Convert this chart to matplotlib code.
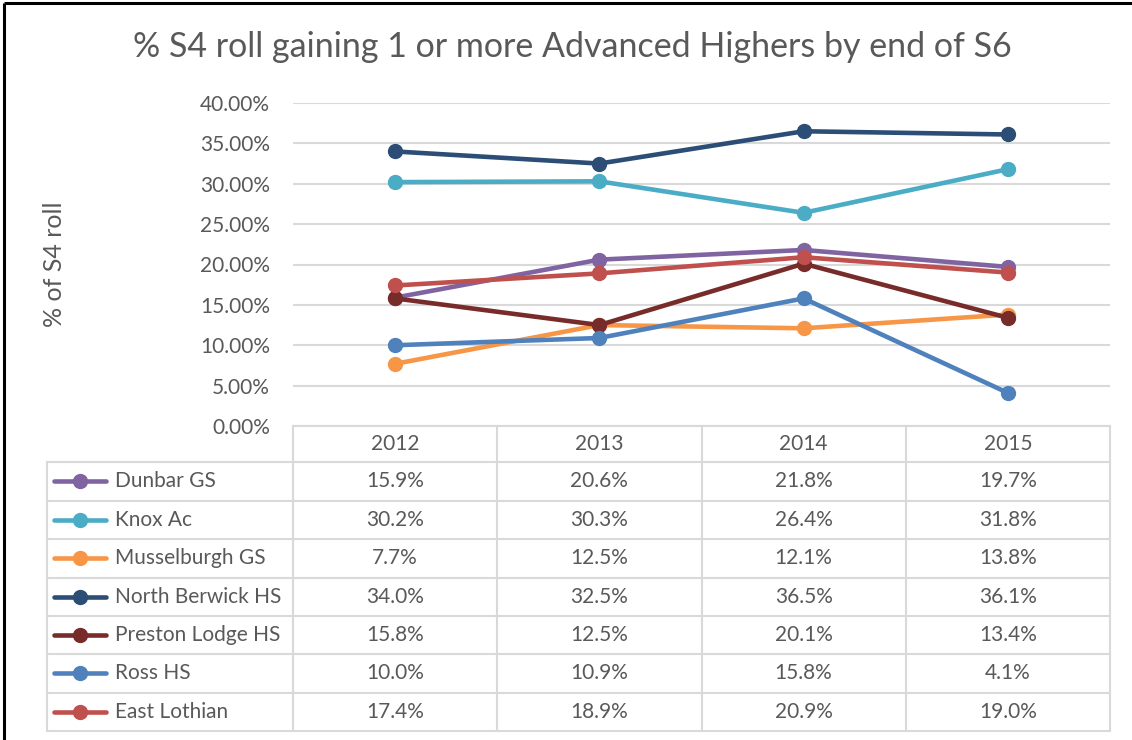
import matplotlib
matplotlib.use("Agg")
import matplotlib.pyplot as plt

plt.rcParams['font.family'] = ['Lato', 'DejaVu Sans']

years = ['2012', '2013', '2014', '2015']
schools = ['Dunbar GS', 'Knox Ac', 'Musselburgh GS', 'North Berwick HS',
           'Preston Lodge HS', 'Ross HS', 'East Lothian']
dunbar = [15.9, 20.6, 21.8, 19.7]
knox = [30.2, 30.3, 26.4, 31.8]
musselburgh = [7.7, 12.5, 12.1, 13.8]
north_berwick = [34.0, 32.5, 36.5, 36.1]
preston = [15.8, 12.5, 20.1, 13.4]
ross = [10.0, 10.9, 15.8, 4.1]
east_lothian = [17.4, 18.9, 20.9, 19.0]
series = [dunbar, knox, musselburgh, north_berwick, preston, ross, east_lothian]
colours = ['#8064A2', '#4BACC6', '#F79646', '#2C4D75', '#772C2A', '#4F81BD', '#C0504D']

W, H = 1132, 740
fig = plt.figure(figsize=(W / 100, H / 100), dpi=100)

# overlay in pixel coords for borders, table and title
ov = fig.add_axes([0, 0, 1, 1])
ov.set_xlim(0, W)
ov.set_ylim(H, 0)
ov.axis('off')

txt = '#595959'
grid = '#D9D9D9'
fs = 15

# outer frame (top and left only visible)
ov.plot([4, W], [3, 3], color='black', lw=2.2, solid_capstyle='butt')
ov.plot([4, 4], [3, H], color='black', lw=2.2, solid_capstyle='butt')

ov.text(572, 47, '% S4 roll gaining 1 or more Advanced Highers by end of S6',
        ha='center', va='center', fontsize=24.5, color=txt)

# main plot area
x0, x1, ytop, ybot = 293, 1110, 103, 426
ax = fig.add_axes([x0 / W, (H - ybot) / H, (x1 - x0) / W, (ybot - ytop) / H])
ax.set_facecolor('none')
xs = range(len(years))
for vals, c in zip(series, colours):
    ax.plot(xs, vals, color=c, lw=3.3, marker='o', ms=10, solid_capstyle='round')
ax.set_xlim(-0.5, len(years) - 0.5)
ax.set_ylim(0, 40)
ax.set_yticks(range(0, 41, 5))
ax.set_yticklabels([f'{v:.2f}%' for v in range(0, 41, 5)], color=txt, fontsize=fs)
ax.tick_params(axis='y', length=0, pad=16.5)
ax.set_xticks([])
ax.yaxis.grid(True, color=grid, lw=1.5)
ax.set_axisbelow(True)
for s in ax.spines.values():
    s.set_visible(False)
ax.set_ylabel('% of S4 roll', fontsize=18, color=txt, labelpad=0, va='center')
ax.yaxis.set_label_coords((55 - x0) / (x1 - x0), 0.5)

# data table
colw = (x1 - x0) / len(years)
row_edges = [462, 500.5, 539, 577.5, 616, 654, 692.5, 731]
lc = '#D9D9D9'
ov.plot([x0, x1], [ybot, ybot], color=lc, lw=1.5)
for y in row_edges:
    ov.plot([47, x1], [y, y], color=lc, lw=1.5)
for i in range(len(years) + 1):
    xx = x0 + i * colw
    ov.plot([xx, xx], [ybot, row_edges[-1]], color=lc, lw=1.5)
ov.plot([47, 47], [row_edges[0], row_edges[-1]], color=lc, lw=1.5)
for i, yr in enumerate(years):
    ov.text(x0 + (i + 0.5) * colw, 444, yr, ha='center', va='center',
            fontsize=fs, color=txt)
for r, (name, vals, c) in enumerate(zip(schools, series, colours)):
    yc = (row_edges[r] + row_edges[r + 1]) / 2
    ov.plot([54, 106], [yc, yc], color=c, lw=3.3, solid_capstyle='round')
    ov.plot([80], [yc], marker='o', ms=10, color=c)
    ov.text(115, yc, name, ha='left', va='center', fontsize=fs, color=txt)
    for i, v in enumerate(vals):
        ov.text(x0 + (i + 0.5) * colw, yc, f'{v:.1f}%', ha='center', va='center',
                fontsize=fs, color=txt)

fig.savefig('out.png', dpi=100)
